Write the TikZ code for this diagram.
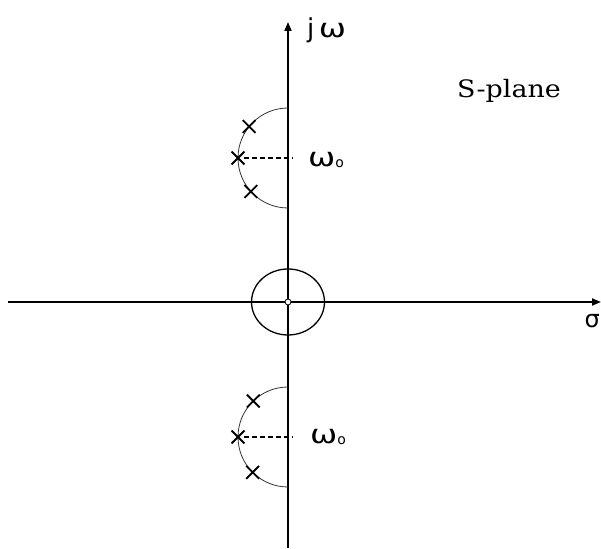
\documentclass[tikz,border=0pt]{standalone}
\usepackage{fontspec}
\newfontfamily\sansgreek{DejaVu Sans}
\newfontfamily\planefont{DejaVu Serif}
\usetikzlibrary{arrows.meta,shapes.misc,calc}

\tikzset{
  axis/.style={line width=1.8pt,-{Triangle[length=9pt,width=7pt]}},
  locus/.style={line width=0.8pt,black!80},
  pole/.style={cross out,draw,line width=1.8pt,minimum size=11pt,inner sep=0pt},
  freqline/.style={line width=1.3pt,dash pattern=on 5pt off 3pt},
  freqlabel/.style={font=\sansgreek\fontsize{26}{26}\selectfont,inner sep=0pt,anchor=base west}
}
\newcommand{\wideomega}{\scalebox{1.25}[1]{ω}}
\newcommand{\omegao}{\wideomega\raisebox{-1pt}{\fontsize{14}{14}\selectfont o}}

\begin{document}
\begin{tikzpicture}[x=1pt,y=1pt]
\useasboundingbox (0,0) rectangle (601,548);
% axes
\coordinate (O) at (288,246);
\coordinate (xl) at (8,246);
\coordinate (xr) at (601,246);
\coordinate (yb) at (288,0);
\coordinate (yt) at (288,526);
\draw[axis] (xl) -- (xr);
\draw[axis] (yb) -- (yt);
\node[font=\sansgreek\fontsize{24}{24}\selectfont,anchor=base east,inner sep=0pt] (sigma) at (600,220) {σ};
\node[freqlabel] (jw) at (307,510) {j\,\wideomega};
\node[font=\planefont\fontsize{24}{24}\selectfont,anchor=base,inner sep=0pt] (plane) at (509,450) {\scalebox{1.12}[1]{S-plane}};

% zero at the origin
\draw[line width=1.3pt] (O) ellipse [x radius=36.5, y radius=33];
\node[circle,draw,fill=white,line width=0.8pt,minimum size=6pt,inner sep=0pt] (zero) at (O) {};

% upper pole group
\coordinate (cu) at (288,390);
\draw[locus] ($(cu)+(0,50)$) arc[start angle=90,end angle=270,radius=50];
\foreach \a [count=\i] in {141,180,222}
  \node[pole] (u\i) at ($(cu)+(\a:50)$) {};
\coordinate (wu) at (293,390);
\draw[freqline] (u2) -- (wu);
\node[freqlabel] (wlu) at (308,381) {\omegao};

% lower pole group
\coordinate (cl) at (288,111);
\draw[locus] ($(cl)+(0,50)$) arc[start angle=90,end angle=270,radius=50];
\foreach \a [count=\i] in {134,180,225}
  \node[pole] (l\i) at ($(cl)+(\a:50)$) {};
\coordinate (wl) at (293,111);
\draw[freqline] (l2) -- (wl);
\node[freqlabel] (wll) at (310,104) {\omegao};
\end{tikzpicture}
\end{document}
